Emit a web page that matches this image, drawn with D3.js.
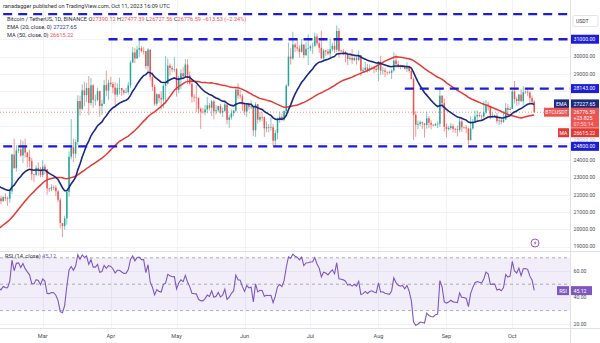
<!DOCTYPE html>
<html><head><meta charset="utf-8">
<script src="https://cdn.jsdelivr.net/npm/d3@7"></script>
<style>
html,body{margin:0;padding:0;background:#fff;}
svg{display:block;font-family:Roboto,"Noto Sans",sans-serif;}
</style></head><body>
<svg id="chart" width="600" height="343"></svg>
<script>
// ---- data: BTC/USDT daily, Binance ----
// closes before the visible window, used to seed EMA(20), MA(50) and RSI(14)
const warmupStart = "2022-12-01";
const warmupClose = [
  16980,17095,16885,17105,16967,17089,16837,17224,17128,17128,17104,17207,17775,17804,17357,16630,16777,16739,16439,16896,16825,16822,16778,16837,16830,16919,16706,16547,16633,16607,16542,
  16616,16672,16675,16850,16831,16951,16955,17091,17196,17446,17934,18869,19909,20976,20880,21169,21161,20688,21086,22666,22783,22707,22917,22633,23060,23009,23074,23031,23774,22840,23125,
  23732,23488,23431,23327,22932,22762,23240,22963
];
const candleStart = "2023-02-09";
const openP = [
  22963,21796,21625,21862,21783,21773,22199,24324,23541,24566,24631,24271,24834,24438,24183,23947,23199,23158,23555,23492,
  23141,23629,23476,22362,22354,22430,22410,22198,21705,20363,20187,20632,22163,24197,24746,24375,25052,27423,26965,28038,27767,28175,27307,28333,27493,27494,27994,27139,27268,28348,28033,
  28478,28411,28199,27790,28168,28175,28033,27906,27947,28333,29653,30235,29892,30399,30485,30318,30315,29445,30397,28822,28245,27262,27816,27591,27514,28307,28422,29473,29340,29248,
  29268,28069,28669,29027,28848,29535,28904,28430,27668,27628,27599,26969,26805,26784,26931,27172,27032,27399,26833,26890,27130,26753,26851,27225,26334,26476,26719,26868,28085,27745,27702,
  27219,26819,27249,27069,27116,25732,27235,26346,26498,26478,25842,25922,25897,25903,25126,25576,26327,26511,26336,26841,28307,29993,29885,30688,30527,30462,30267,30692,30077,30446,
  30472,30585,30617,31156,30767,30505,29895,30347,30292,30171,30414,30620,30391,31476,30335,30295,30249,30145,29856,29913,29792,29908,29800,30083,29176,29228,29354,29211,29314,29352,29281,
  29232,29706,29186,29193,29114,29087,29055,29183,29765,29561,29429,29397,29416,29283,29408,29170,28701,26628,26050,26097,26189,26125,26039,26427,26163,26050,26008,26089,26107,27728,27297,
  25931,25800,25868,25970,25812,25780,25753,26241,25905,25895,25833,25163,25840,26223,26530,26609,26568,26528,26762,27211,27133,26568,26580,26580,26256,26298,26218,26353,27022,26911,
  26968,27983,27531,27430,27791,27411,27932,27957,27918,27590,27390.12
];
const highP = [
  23011,21940,21906,22090,21891,22322,24380,25250,24877,24750,25192,25121,25250,24476,24600,24132,23219,23689,23880,23600,
  24000,23780,23479,22409,22603,22551,22551,22271,21818,20370,20792,22185,24500,26386,25250,25200,27756,27725,28390,28528,28470,28868,28752,28399,27787,28194,28022,27499,28649,29184,28660,
  28822,28530,28494,28444,28775,28180,28100,28179,28530,29770,30550,30500,30620,31000,30600,30550,30320,30485,30411,29090,28374,27882,27820,28000,28400,30020,29890,29598,29454,29969,
  29338,28879,29266,29379,29850,29840,29138,28664,27821,28336,27638,27055,27030,27200,27663,27299,27500,27485,27183,27150,27265,27060,27495,27227,26632,26932,26900,28200,28447,28048,27835,
  27350,27300,27333,27455,27130,27350,27255,26800,26776,26530,26250,26087,26450,26086,25750,26475,26775,26700,26900,28400,30800,30500,31430,30800,31045,30650,31010,30703,30829,31282,
  30660,30800,31381,31325,30877,31500,30449,30386,30445,31045,30800,30993,31804,31640,30390,30440,30336,30233,30184,30417,30055,29998,30350,30098,29375,29690,29575,29530,29415,29450,29530,
  29744,30045,29410,29333,29125,29175,29245,30244,30136,29738,29534,29474,29465,29680,29475,29250,28782,26834,26296,26299,26253,26139,26810,26555,26316,26087,26168,26253,28142,27760,27574,
  26125,25970,26156,26099,25875,26000,26444,26430,25945,26033,25888,26538,26376,26860,26888,26777,26626,27409,27490,27385,27160,26743,26641,26738,26430,26397,26835,27308,27240,27089,
  28065,28580,27667,27830,28123,28295,28029,28100,27987,27735,27477.39
];
const lowP = [
  21688,21451,21599,21630,21351,21532,22047,23505,23339,24418,24192,23840,24148,23574,23582,22841,22722,23059,23106,23020,
  23020,23195,22000,22161,22209,22265,21927,21580,20052,19549,19980,20271,21889,24054,23896,24123,24890,26578,26880,27125,27363,26601,27155,27021,27163,27418,26508,26631,27240,27695,27500,
  28242,27861,27200,27661,27805,27711,27766,27881,27801,28170,29610,29614,29860,29967,30231,30120,29267,29100,28600,28010,27125,27134,27337,26942,27020,27235,28380,28882,29088,29088,
  27680,27872,28120,28670,28800,28385,28332,27337,27375,26777,26706,25811,26692,26600,26742,26863,26555,26357,26630,26770,26674,26500,26800,26080,25872,26345,26547,26770,27524,27566,26839,
  26605,26505,26916,26950,25388,25351,26119,26202,26265,25347,25620,25616,25708,24820,24757,25200,26161,26256,26256,26660,28260,29535,29810,30250,30300,29933,30224,29900,30036,29500,
  30320,30155,30571,30640,30203,29850,29701,30044,30072,29950,30300,30200,30254,29940,30252,30073,29660,29500,29768,29565,29720,29525,29730,28862,29047,29096,29069,29125,29253,29033,29101,
  28585,28927,28960,28806,28926,28985,28701,29125,29350,29320,29260,29358,29237,29100,29073,28690,25166,25350,25801,25970,25800,25300,25812,25864,25777,25960,25985,25860,25922,27023,25656,
  25333,25717,25750,25600,25580,25370,25614,25645,25810,25564,24901,25132,25764,26125,26224,26477,26385,26375,26673,26850,26361,26468,26500,26122,26012,26088,26160,26336,26665,26890,
  26954,27281,27160,27215,27375,27175,27843,27699,27262,27298,26727.56
];
const closeP = [
  21796,21625,21862,21783,21773,22199,24324,23541,24566,24631,24271,24834,24438,24183,23947,23199,23158,23555,23492,23141,
  23629,23476,22362,22354,22430,22410,22198,21705,20363,20187,20632,22163,24197,24746,24375,25052,27423,26965,28038,27767,28175,27307,28333,27493,27494,27994,27139,27268,28348,28033,28478,
  28411,28199,27790,28168,28175,28033,27906,27947,28333,29653,30235,29892,30399,30485,30318,30315,29445,30397,28822,28245,27262,27816,27591,27514,28307,28422,29473,29340,29248,29268,
  28069,28669,29027,28848,29535,28904,28430,27668,27628,27599,26969,26805,26784,26931,27172,27032,27399,26833,26890,27130,26753,26851,27225,26334,26476,26719,26868,28085,27745,27702,27219,
  26819,27249,27069,27116,25732,27235,26346,26498,26478,25842,25922,25897,25903,25126,25576,26327,26511,26336,26841,28307,29993,29885,30688,30527,30462,30267,30692,30077,30446,30472,
  30585,30617,31156,30767,30505,29895,30347,30292,30171,30414,30620,30391,31476,30335,30295,30249,30145,29856,29913,29792,29908,29800,30083,29176,29228,29354,29211,29314,29352,29281,29232,
  29706,29186,29193,29114,29087,29055,29183,29765,29561,29429,29397,29416,29283,29408,29170,28701,26628,26050,26097,26189,26125,26039,26427,26163,26050,26008,26089,26107,27728,27297,25931,
  25800,25868,25970,25812,25780,25753,26241,25905,25895,25833,25163,25840,26223,26530,26609,26568,26528,26762,27211,27133,26568,26580,26580,26256,26298,26218,26353,27022,26911,26968,
  27983,27531,27430,27791,27411,27932,27957,27918,27590,27390.12,26776.59
];
// indicator readouts shown in the legend / price scale
const emaLast = 27227.65;
const maLast = 26615.22;
const rsiLast = 45.12;
// horizontal support / resistance rays
const levelPrice = [32450, 31000, 28143, 24800];
const levelFrom = ["2023-02-11", "2023-03-31", "2023-08-13", "2023-02-11"];
const levelTag = [null, "31000.00", "28143.00", "24800.00"];
// axes
const monthTicks = ["2023-03-01","2023-04-01","2023-05-01","2023-06-01","2023-07-01","2023-08-01","2023-09-01","2023-10-01"];
const monthLabels = ["Mar","Apr","May","Jun","Jul","Aug","Sep","Oct"];
const priceTicks = [19000,20000,21000,22000,23000,24000,25000,29000,30000];
const priceGrid = [19000,20000,21000,22000,23000,24000,25000,26000,27000,28000,29000,30000,31000];
const rsiTicks = [20,40,60];
const rsiLevels = [70,50,30];

// ---- layout ----
const W = 600, H = 343, plotR = 570.5, paneSep = 251, axisTop = 328;
const UP = "#26a69a", DOWN = "#ef5350", EMA_C = "#1a2a80", MA_C = "#e53935", LVL_C = "#1d1dd6", RSI_C = "#7e57c2";
const parse = d3.utcParse("%Y-%m-%d");
const fmt2 = d3.format(".2f");

const x = d3.scaleUtc().domain([parse("2023-03-01"), parse("2023-10-01")]).range([42.7, 512.3]);
const y = d3.scaleLinear().domain([20000, 30000]).range([229.3, 56.5]);
const yr = d3.scaleLinear().domain([20, 60]).range([323.8, 271]);

// ---- derived indicator series (EMA 20, SMA 50, RSI 14 of close) ----
const allClose = warmupClose.concat(closeP);
const nW = warmupClose.length;
const ema = [];
const kE = 2 / 21;
allClose.forEach((c, i) => { ema[i] = i === 0 ? c : c * kE + ema[i - 1] * (1 - kE); });
const sma = allClose.map((c, i) => i < 49 ? null : d3.mean(allClose.slice(i - 49, i + 1)));
const rsi = [];
let ag = 0, al = 0;
for (let i = 1; i < allClose.length; i++) {
  const ch = allClose[i] - allClose[i - 1];
  const g = Math.max(ch, 0), l = Math.max(-ch, 0);
  if (i <= 14) { ag += g / 14; al += l / 14; if (i < 14) continue; }
  else { ag = (ag * 13 + g) / 14; al = (al * 13 + l) / 14; }
  rsi[i] = al === 0 ? 100 : 100 - 100 / (1 + ag / al);
}

const day0 = parse(candleStart);
const candles = closeP.map((c, i) => ({
  date: d3.utcDay.offset(day0, i), o: openP[i], h: highP[i], l: lowP[i], c,
  ema: ema[nW + i], ma: sma[nW + i], rsi: rsi[nW + i]
}));
// include the last few warm-up points so lines enter from the left edge
const pre = d3.range(3).map(j => {
  const i = nW - 3 + j;
  return { date: d3.utcDay.offset(parse(warmupStart), i), ema: ema[i], ma: sma[i], rsi: rsi[i] };
});
const series = pre.concat(candles);

// ---- drawing ----
const svg = d3.select("#chart");
svg.append("rect").attr("width", W).attr("height", H).attr("fill", "#fff");
const defs = svg.append("defs");
defs.append("clipPath").attr("id", "clipP").append("rect").attr("x", 0).attr("y", 0).attr("width", plotR).attr("height", paneSep);
defs.append("clipPath").attr("id", "clipR").append("rect").attr("x", 0).attr("y", paneSep).attr("width", plotR).attr("height", axisTop - paneSep);

// grid
const grid = svg.append("g").attr("stroke", "#eef0f5").attr("stroke-width", 0.8);
monthTicks.forEach(d => {
  const xx = Math.round(x(parse(d))) + 0.5;
  grid.append("line").attr("x1", xx).attr("x2", xx).attr("y1", 0).attr("y2", axisTop);
});
priceGrid.forEach(p => {
  const yy = Math.round(y(p)) + 0.5;
  grid.append("line").attr("x1", 0).attr("x2", plotR).attr("y1", yy).attr("y2", yy);
});
rsiTicks.forEach(v => {
  const yy = Math.round(yr(v)) + 0.5;
  grid.append("line").attr("x1", 0).attr("x2", plotR).attr("y1", yy).attr("y2", yy);
});

// RSI band + levels
const rsiG = svg.append("g").attr("clip-path", "url(#clipR)");
rsiG.append("rect").attr("x", 0).attr("width", plotR).attr("y", yr(70)).attr("height", yr(30) - yr(70))
  .attr("fill", RSI_C).attr("fill-opacity", 0.1);
rsiLevels.forEach(v => {
  rsiG.append("line").attr("x1", 0).attr("x2", plotR).attr("y1", yr(v)).attr("y2", yr(v))
    .attr("stroke", "#9a9ca6").attr("stroke-width", 0.8).attr("stroke-dasharray", "3,3");
});
rsiG.append("path").datum(series.filter(d => d.rsi != null))
  .attr("d", d3.line().x(d => x(d.date)).y(d => yr(d.rsi)))
  .attr("fill", "none").attr("stroke", RSI_C).attr("stroke-width", 1.1);

// price pane
const pG = svg.append("g").attr("clip-path", "url(#clipP)");
// last-price dotted line
const lastC = closeP[closeP.length - 1];
pG.append("line").attr("x1", 0).attr("x2", plotR).attr("y1", y(lastC)).attr("y2", y(lastC))
  .attr("stroke", DOWN).attr("stroke-width", 0.7).attr("stroke-dasharray", "1,2");

// candles
const cg = pG.append("g");
cg.selectAll("line.wick").data(candles).join("line").attr("class", "wick")
  .attr("x1", d => x(d.date)).attr("x2", d => x(d.date))
  .attr("y1", d => y(d.h)).attr("y2", d => y(d.l))
  .attr("stroke", d => d.c >= d.o ? UP : DOWN).attr("stroke-width", 0.6);
cg.selectAll("rect.body").data(candles).join("rect").attr("class", "body")
  .attr("x", d => x(d.date) - 0.75).attr("width", 1.5)
  .attr("y", d => y(Math.max(d.o, d.c)))
  .attr("height", d => Math.max(0.6, Math.abs(y(d.o) - y(d.c))))
  .attr("fill", d => d.c >= d.o ? UP : DOWN);

// moving averages
pG.append("path").datum(series)
  .attr("d", d3.line().x(d => x(d.date)).y(d => y(d.ma)))
  .attr("fill", "none").attr("stroke", MA_C).attr("stroke-width", 1.5);
pG.append("path").datum(series)
  .attr("d", d3.line().x(d => x(d.date)).y(d => y(d.ema)))
  .attr("fill", "none").attr("stroke", EMA_C).attr("stroke-width", 1.6);

// support / resistance rays
levelPrice.forEach((p, i) => {
  svg.append("line").attr("x1", x(parse(levelFrom[i]))).attr("x2", plotR)
    .attr("y1", y(p)).attr("y2", y(p))
    .attr("stroke", LVL_C).attr("stroke-width", 2.4).attr("stroke-dasharray", "9,6");
});

// panes separators
const sep = svg.append("g").attr("stroke", "#dfe2ea").attr("stroke-width", 1);
sep.append("line").attr("x1", 0).attr("x2", W).attr("y1", paneSep + 0.5).attr("y2", paneSep + 0.5);
sep.append("line").attr("x1", 0).attr("x2", W).attr("y1", axisTop + 0.5).attr("y2", axisTop + 0.5);
sep.append("line").attr("x1", plotR).attr("x2", plotR).attr("y1", 0).attr("y2", H);

// time axis
monthLabels.forEach((m, i) => {
  svg.append("text").attr("x", x(parse(monthTicks[i]))).attr("y", 338)
    .attr("text-anchor", "middle").attr("font-size", 5.6).attr("fill", "#4a4e59").text(m);
});

// price axis ticks; a tick sitting right against a level label is nudged clear of it
const axX = 573.5;
const tagY = levelPrice.filter((p, i) => levelTag[i]).map(p => y(p));
priceTicks.forEach(p => {
  let yy = y(p);
  tagY.forEach(t => { if (Math.abs(yy - t) < 6.5) yy = t + (yy < t ? -6.3 : 6.3); });
  svg.append("text").attr("x", axX).attr("y", yy + 1.9).attr("font-size", 5.2)
    .attr("fill", "#4a4e59").attr("fill-opacity", yy !== y(p) ? 0.45 : 1).text(fmt2(p));
});
rsiTicks.forEach(v => {
  svg.append("text").attr("x", axX).attr("y", yr(v) + 1.9).attr("font-size", 5.2).attr("fill", "#4a4e59").text(fmt2(v));
});

// currency box
svg.append("rect").attr("x", 573).attr("y", 15.5).attr("width", 25).attr("height", 11).attr("rx", 1.5)
  .attr("fill", "#fff").attr("stroke", "#d6d8de").attr("stroke-width", 0.7);
svg.append("text").attr("x", 576).attr("y", 23).attr("font-size", 5).attr("fill", "#333").text("USDT");

// price scale labels
function axisLabel(yy, text, fill, h) {
  svg.append("rect").attr("x", plotR + 0.5).attr("y", yy - (h || 9) / 2).attr("width", 28).attr("height", h || 9).attr("fill", fill);
  svg.append("text").attr("x", axX).attr("y", yy + 1.9).attr("font-size", 5.2).attr("fill", "#fff").text(text);
}
function tag(yy, text, fill, w) {
  svg.append("rect").attr("x", plotR - 1.5 - w).attr("y", yy - 4.5).attr("width", w).attr("height", 9).attr("fill", fill);
  svg.append("text").attr("x", plotR - 1.5 - w / 2).attr("y", yy + 1.9).attr("text-anchor", "middle")
    .attr("font-size", 5.2).attr("fill", "#fff").text(text);
}
levelPrice.forEach((p, i) => { if (levelTag[i]) axisLabel(y(p), levelTag[i], LVL_C); });

// EMA label
const yEma = y(emaLast);
tag(yEma - 0.5, "EMA", EMA_C, 15);
axisLabel(yEma - 0.5, fmt2(emaLast), EMA_C);
// symbol last price label (price, change, countdown)
const yLast = y(lastC);
const boxTop = yLast - 4.5;
svg.append("rect").attr("x", plotR + 0.5).attr("y", boxTop).attr("width", 28).attr("height", 20).attr("fill", DOWN);
tag(yLast, "BTCUSDT", DOWN, 25);
[fmt2(lastC), "+23.825", "07:50:14"].forEach((t, i) => {
  svg.append("text").attr("x", axX).attr("y", yLast + 1.9 + i * 5.9).attr("font-size", 5.2)
    .attr("fill", "#fff").attr("fill-opacity", i === 2 ? 0.8 : 1).text(t);
});
// MA label, stacked under the symbol label
const yMa = Math.max(y(maLast), boxTop + 20 + 5);
tag(yMa, "MA", MA_C, 11);
axisLabel(yMa, fmt2(maLast), MA_C);
// RSI label
tag(yr(rsiLast), "RSI", RSI_C, 12);
svg.append("rect").attr("x", plotR + 0.5).attr("y", yr(rsiLast) - 4.5).attr("width", 21).attr("height", 9).attr("fill", RSI_C);
svg.append("text").attr("x", axX).attr("y", yr(rsiLast) + 1.9).attr("font-size", 5.2).attr("fill", "#fff").text(fmt2(rsiLast));

// event marker
const ev = svg.append("g").attr("transform", "translate(535,243)");
ev.append("circle").attr("r", 4).attr("fill", "#fff").attr("stroke", "#9c27b0").attr("stroke-width", 0.8);
ev.append("path").attr("d", "M0.9,-2.6 L-1.2,0.4 L0.2,0.4 L-0.7,2.6 L1.4,-0.5 L0,-0.5 Z").attr("fill", "#9c27b0");

// ---- header & legends ----
const TXT = "#2a2e39";
svg.append("text").attr("x", 3).attr("y", 8).attr("font-size", 5.6).attr("fill", TXT)
  .text("ranadagger published on TradingView.com, Oct 11, 2023 16:09 UTC");

const last = candles[candles.length - 1];
const prevC = closeP[closeP.length - 2];
const chg = last.c - prevC;
const pct = chg / prevC * 100;
const sgn = v => (v < 0 ? "\u2212" : "+") + fmt2(Math.abs(v));
const l1 = svg.append("text").attr("x", 7).attr("y", 21.3).attr("font-size", 5.6).attr("fill", TXT);
l1.append("tspan").text("Bitcoin / TetherUS, 1D, BINANCE  ");
[["O", last.o], ["H", last.h], ["L", last.l], ["C", last.c]].forEach(([k, v], i) => {
  l1.append("tspan").attr("fill", TXT).text((i ? " " : "") + k);
  l1.append("tspan").attr("fill", DOWN).text(fmt2(v));
});
l1.append("tspan").attr("fill", DOWN).text(" " + sgn(chg) + " (" + sgn(pct) + "%)");

const l2 = svg.append("text").attr("x", 7).attr("y", 29.3).attr("font-size", 5.6).attr("fill", TXT);
l2.append("tspan").text("EMA (20, close, 0)  ");
l2.append("tspan").attr("fill", "#2a3a9e").text(fmt2(emaLast));
const l3 = svg.append("text").attr("x", 7).attr("y", 37).attr("font-size", 5.6).attr("fill", TXT);
l3.append("tspan").text("MA (50, close, 0)  ");
l3.append("tspan").attr("fill", DOWN).text(fmt2(maLast));

const l4 = svg.append("text").attr("x", 5).attr("y", 258).attr("font-size", 5.6).attr("fill", TXT);
l4.append("tspan").text("RSI (14, close)  ");
l4.append("tspan").attr("fill", RSI_C).text(fmt2(rsiLast));
</script>
</body></html>
